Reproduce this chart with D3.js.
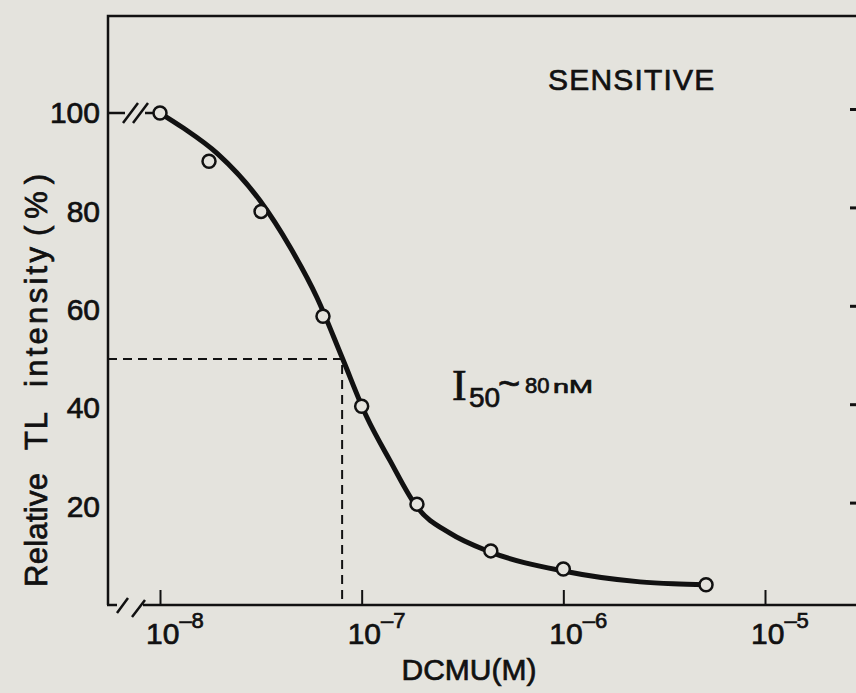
<!DOCTYPE html>
<html>
<head>
<meta charset="utf-8">
<script src="https://cdn.jsdelivr.net/npm/d3@7"></script>
<style>
  body { margin: 0; background: #e4e3dd; }
  svg { display: block; }
  text { font-family: "Liberation Sans", Arial, sans-serif; fill: #111; stroke: #111; stroke-width: 0.7; }
</style>
</head>
<body>
<svg id="chart" width="856" height="693"></svg>
<script>
// measured points: DCMU concentration (M) vs relative TL intensity (%)
var conc = [1e-8, 1.75e-8, 3.17e-8, 6.43e-8, 1.0e-7, 1.88e-7, 4.37e-7, 1.0e-6, 5.1e-6];
var intensity = [100, 90.2, 80.0, 58.7, 40.4, 20.5, 11.0, 7.3, 4.1];

// hand-drawn fitted curve
var fitConc = [1e-8, 1.3e-8, 1.92e-8, 3.13e-8, 4.42e-8, 6.0e-8, 7.98e-8, 1.06e-7, 1.38e-7, 1.88e-7, 2.74e-7, 4.33e-7, 1.0e-6, 2.4e-6, 3.5e-6, 5.1e-6];
var fitValue = [100, 97.0, 91.8, 82.2, 72.7, 62.5, 50.4, 38.2, 29.4, 19.9, 14.6, 10.8, 6.9, 4.7, 4.3, 4.1];

var xTicks = [1e-8, 1e-7, 1e-6, 1e-5];
var xExp = ["-8", "-7", "-6", "-5"];
var yTicks = [20, 40, 60, 80, 100];

var i50 = 8e-8, half = 50;

var svg = d3.select("#chart"),
    ink = "#111",
    paper = "#e4e3dd",
    axL = 108, axT = 16, axB = 605, axR = 862;

var x = d3.scaleLog().domain([1e-8, 1e-5]).range([160, 765]);
var y = d3.scaleLinear().domain([0, 100]).range([axB, 113]);

svg.append("rect").attr("width", 856).attr("height", 693).attr("fill", paper);

// frame: left + top
svg.append("path")
    .attr("d", "M" + axL + "," + axB + "V" + axT + "H" + axR)
    .attr("fill", "none").attr("stroke", ink).attr("stroke-width", 2.5);

// bottom axis with break
svg.append("path")
    .attr("d", "M" + (axL - 1) + "," + axB + "H117 M143," + axB + "H" + axR +
               " M117,613 L128,598 M132,617 L145,600")
    .attr("fill", "none").attr("stroke", ink).attr("stroke-width", 2.5);

// break on the 100% line
svg.append("path")
    .attr("d", "M" + axL + "," + y(100) + "H125 M145," + y(100) + "H" + x(1e-8) +
               " M123,123 L138,103 M133,123 L148,103")
    .attr("fill", "none").attr("stroke", ink).attr("stroke-width", 2.5);

// x ticks (inward)
var xAxis = svg.append("g")
    .attr("transform", "translate(0," + axB + ")")
    .call(d3.axisBottom(x).tickValues(xTicks).tickSize(-15).tickFormat(""));
xAxis.select(".domain").remove();
xAxis.selectAll("line").attr("stroke", ink).attr("stroke-width", 2);

var xLab = svg.append("g").selectAll("text")
  .data(xTicks)
  .enter().append("text")
    .attr("x", function(d) { return x(d) - 14; })
    .attr("y", 644)
    .attr("font-size", 30);
xLab.append("tspan").text("10");
xLab.append("tspan")
    .attr("dy", -16).attr("font-size", 22)
    .text(function(d, i) { return "\u2013" + xExp[i].slice(1); });

// y labels
var yAxis = svg.append("g")
    .attr("transform", "translate(" + axL + ",0)")
    .call(d3.axisLeft(y).tickValues(yTicks).tickSize(0).tickPadding(8));
yAxis.select(".domain").remove();
yAxis.selectAll("text")
    .attr("font-size", 30)
    .attr("font-family", "Liberation Sans, Arial, sans-serif")
    .attr("fill", ink);

// right edge inward ticks
var rAxis = svg.append("g")
    .attr("transform", "translate(" + axR + ",-4)")
    .call(d3.axisLeft(y).tickValues(yTicks).tickSize(12).tickFormat(""));
rAxis.select(".domain").remove();
rAxis.selectAll("line").attr("stroke", ink).attr("stroke-width", 3);

// I50 dashed guides
svg.append("path")
    .attr("d", "M" + axL + "," + y(half) + "H" + x(i50) + "V" + axB)
    .attr("fill", "none").attr("stroke", ink).attr("stroke-width", 2)
    .attr("stroke-dasharray", "9,6");

// fitted curve
var fit = fitConc.map(function(c, i) { return [c, fitValue[i]]; });
var line = d3.line()
    .x(function(d) { return x(d[0]); })
    .y(function(d) { return y(d[1]); })
    .curve(d3.curveMonotoneX);

svg.append("path")
    .datum(fit)
    .attr("d", line)
    .attr("fill", "none").attr("stroke", ink).attr("stroke-width", 5)
    .attr("stroke-linecap", "round");

// data points
svg.append("g").selectAll("circle")
  .data(conc)
  .enter().append("circle")
    .attr("cx", function(d) { return x(d); })
    .attr("cy", function(d, i) { return y(intensity[i]); })
    .attr("r", 6.5)
    .attr("fill", paper).attr("stroke", ink).attr("stroke-width", 2.5);

// labels
svg.append("text")
    .attr("x", 548).attr("y", 90)
    .attr("font-size", 30).attr("letter-spacing", 1.2)
    .text("SENSITIVE");

var lbl = svg.append("g");
lbl.append("text").attr("x", 452).attr("y", 400)
    .attr("font-size", 44).style("font-family", "Liberation Serif, serif")
    .text("I");
lbl.append("text").attr("x", 469).attr("y", 407).attr("font-size", 28).text("50");
lbl.append("text").attr("x", 498).attr("y", 397).attr("font-size", 38).text("~");
lbl.append("text").attr("x", 525).attr("y", 393).attr("font-size", 22).text("80");
lbl.append("text").attr("x", 553).attr("y", 393).attr("font-size", 19)
    .attr("textLength", 40).attr("lengthAdjust", "spacingAndGlyphs").text("nM");

svg.append("text")
    .attr("x", 469).attr("y", 680)
    .attr("text-anchor", "middle")
    .attr("font-size", 30)
    .text("DCMU(M)");

// y title, word by word to keep the wide spacing
var yTitle = [
  {t: "Relative", start: 587, len: 114},
  {t: "TL", start: 450, len: 38},
  {t: "intensity", start: 387, len: 140},
  {t: "(%)", start: 236, len: 62}
];
var yt = svg.append("g").attr("transform", "translate(47,0) rotate(-90)");
yt.selectAll("text")
  .data(yTitle)
  .enter().append("text")
    .attr("x", function(d) { return -d.start; })
    .attr("y", 0)
    .attr("font-size", 31)
    .attr("textLength", function(d) { return d.len; })
    .attr("lengthAdjust", "spacing")
    .text(function(d) { return d.t; });
</script>
</body>
</html>
